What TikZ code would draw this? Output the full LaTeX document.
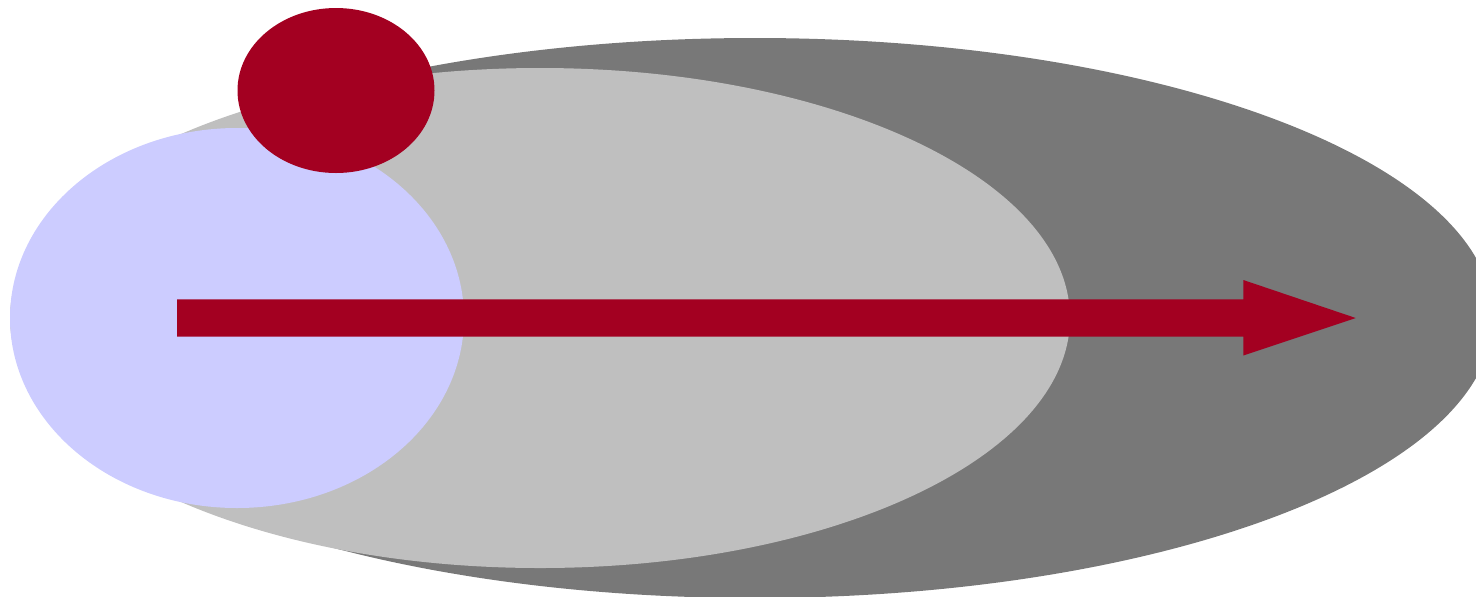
\documentclass[tikz,border=0pt]{standalone}
\definecolor{darkg}{HTML}{787878}
\definecolor{lightg}{HTML}{BFBFBF}
\definecolor{lav}{HTML}{CCCCFF}
\definecolor{redc}{HTML}{A30021}
\begin{document}
\begin{tikzpicture}[x=0.5pt,y=-0.5pt,
  blob/.style={draw=none}]
\useasboundingbox (0,0) rectangle (1476,596);
\begin{scope}
\clip (0,0) rectangle (1476,596);
\fill[darkg,blob] (755,318) ellipse [x radius=738, y radius=280];
\fill[lightg,blob] (540,318) ellipse [x radius=530, y radius=250];
\fill[lav,blob] (237,318) ellipse [x radius=227, y radius=190];
\fill[redc,blob] (336,90.5) ellipse [x radius=98.5, y radius=82.5];
\fill[redc,blob] (177,299.3) -- (1243.3,299.3) -- (1243.3,280) -- (1355.7,318)
  -- (1243.3,355.5) -- (1243.3,336.7) -- (177,336.7) -- cycle;
\end{scope}
\end{tikzpicture}
\end{document}
